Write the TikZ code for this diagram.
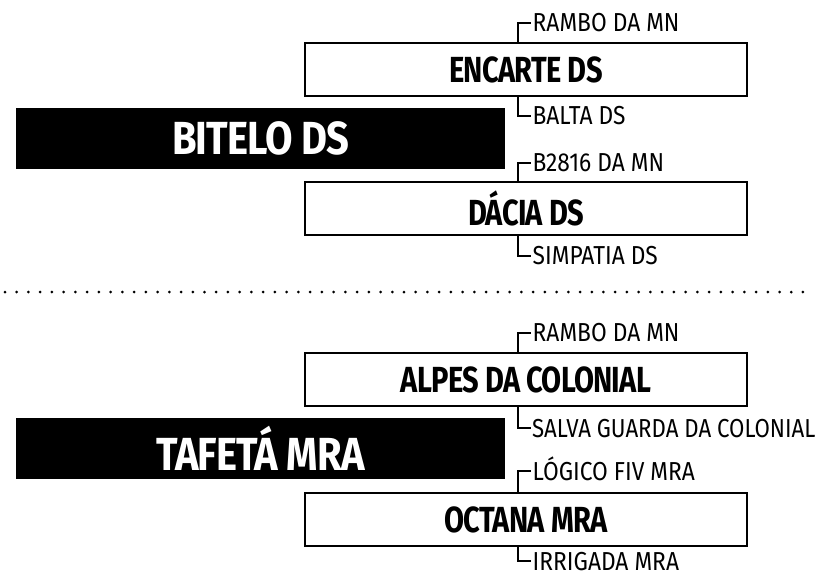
\documentclass[tikz,border=0pt]{standalone}
\usepackage{fontspec}
\newfontfamily\labfont[FakeStretch=0.875]{Fira Sans}
\newfontfamily\labnarrow[FakeStretch=0.855]{Fira Sans}
\newfontfamily\hvyfont[FakeStretch=0.80,LetterSpace=-2]{Fira Sans}
\newfontfamily\blkfont[FakeStretch=0.86,LetterSpace=-2]{Fira Sans}
\begin{document}
\begin{tikzpicture}[x=1pt,y=-1pt,
  framebox/.style={draw=black,line width=2pt,fill=white,minimum width=442pt,minimum height=53pt,inner sep=0pt,
    font=\hvyfont\bfseries\fontsize{36.3}{36.3}\selectfont},
  blackbox/.style={fill=black,text=white,minimum width=489pt,minimum height=61pt,inner sep=0pt,
    font=\blkfont\bfseries\fontsize{46.4}{46.4}\selectfont},
  lab/.style={anchor=west,inner xsep=1.5pt,inner ysep=0pt,text height=18pt,text depth=0pt,
    font=\labfont\fontsize{26}{26}\selectfont},
  conn/.style={draw=black,line width=2pt},
  dots/.style={line width=3pt,line cap=round,dash pattern=on 0pt off 11.735pt}]
\useasboundingbox (0,0) rectangle (816,576);
% top section
\node[blackbox] (bitelo) at (260.5,138.5) {BITELO DS};
\node[framebox] (encarte) at (526,69.5) {ENCARTE DS};
\node[framebox] (dacia) at (526,208.5) {DÁCIA DS};
\node[lab] (l1) at (531,22.5) {RAMBO DA MN};
\node[lab] (l2) at (531,115.5) {BALTA DS};
\node[lab] (l3) at (531,162.5) {B2816 DA MN};
\node[lab] (l4) at (531,255.5) {SIMPATIA DS};
\draw[conn] (encarte.north west) ++(214,0) |- (l1.west);
\draw[conn] (encarte.south west) ++(214,0) |- (l2.west);
\draw[conn] (dacia.north west) ++(214,0) |- (l3.west);
\draw[conn] (dacia.south west) ++(214,0) |- (l4.west);
% separator
\coordinate (dl) at (5,292);
\coordinate (dr) at (804,292);
\draw[dots] (dl) -- (dr);
% bottom section
\node[blackbox] (tafeta) at (260.5,448) {TAFETÁ MRA};
\node[framebox] (alpes) at (526,379.5) {ALPES DA COLONIAL};
\node[framebox] (octana) at (526,519.5) {OCTANA MRA};
\node[lab] (l5) at (531,332.5) {RAMBO DA MN};
\node[lab,font=\labnarrow\fontsize{26}{26}\selectfont,inner xsep=1pt] (l6) at (531,428) {SALVA GUARDA DA COLONIAL};
\node[lab] (l7) at (531,471) {LÓGICO FIV MRA};
\node[lab] (l8) at (531,561) {IRRIGADA MRA};
\draw[conn] (alpes.north west) ++(214,0) |- (l5.west);
\draw[conn] (alpes.south west) ++(214,0) |- (l6.west);
\draw[conn] (octana.north west) ++(214,0) |- (l7.west);
\draw[conn] (octana.south west) ++(214,0) |- (l8.west);
\end{tikzpicture}
\end{document}
